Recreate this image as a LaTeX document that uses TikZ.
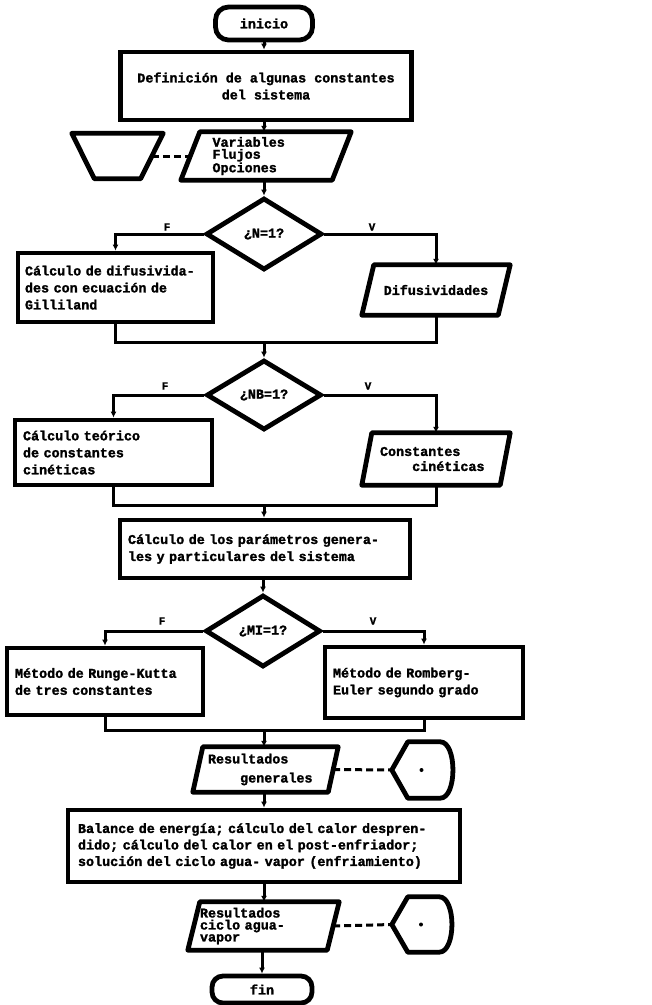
\documentclass[tikz,border=0pt]{standalone}
\usepackage{fontspec}
\setmonofont[BoldFeatures={FakeBold=1.6}]{Liberation Mono}
\usetikzlibrary{shapes.geometric,arrows.meta,calc}
\newcommand\pgramoutline[2]{%
  \draw[outline] ($(#1.north west)+(#2/2,0)$) -- ($(#1.north east)+(#2/2,0)$)
    -- ($(#1.south east)+(-#2/2,0)$) -- ($(#1.south west)+(-#2/2,0)$) -- cycle;}
\newcommand\dispoutline[1]{%
  \draw[outline] (#1.west) -- ($(#1.north west)+(16,0)$) -- ($(#1.north east)+(-13,0)$)
    .. controls ($(#1.north east)+(4,0)$) and ($(#1.south east)+(4,0)$) .. ($(#1.south east)+(-13,0)$)
    -- ($(#1.south west)+(16,0)$) -- cycle;
  \fill ($(#1.center)+(-1,0)$) circle (2pt);}
\begin{document}
\begin{tikzpicture}[x=1pt,y=-1pt,
  every node/.style={font=\fontsize{13.4}{17}\selectfont\ttfamily\bfseries, inner sep=0pt},
  box/.style={draw, line width=4.8pt, rectangle, align=left},
  term/.style={draw, line width=4.8pt, rectangle, rounded corners=13pt},
  dec/.style={draw, line width=4.8pt, diamond},
  io/.style={rectangle, align=left},
  outline/.style={line width=4.8pt, line join=round},
  conn/.style={line width=3pt},
  arr/.style={line width=3pt, -{Latex[length=6pt,width=6pt]}},
  dashconn/.style={line width=3pt, dash pattern=on 7pt off 4pt},
  lab/.style={font=\fontsize{11}{11}\selectfont\ttfamily\bfseries}
]
\fill[white] (0,0) rectangle (652,1005);
\useasboundingbox (0,0) rectangle (652,1005);

% main column
\node[term, minimum width=97pt, minimum height=33pt] (ini) at (264,23.5) {inicio};
\node[box, align=center, minimum width=291pt, minimum height=68pt] (def) at (266,86)
  {Definición de algunas constantes\\del sistema};
\node[io, minimum width=151pt, minimum height=48pt, inner xsep=22pt, text width=107pt,
  font=\fontsize{13.4}{12}\selectfont\ttfamily\bfseries] (var) at (266,156)
  {Variables\\Flujos\\Opciones};
\pgramoutline{var}{19}
\node[rectangle, minimum width=68.5pt, minimum height=45pt] (trap) at (117.5,156) {};
\draw[outline] ($(trap.north west)+(-11.25,0)$) -- ($(trap.north east)+(11.25,0)$)
  -- ($(trap.south east)+(-11.25,0)$) -- ($(trap.south west)+(11.25,0)$) -- cycle;
\draw[dashconn] (trap.east) -- (var.west);

% decision 1
\node[dec, minimum width=116pt, minimum height=72pt] (d1) at (264,234) {¿N=1?};
\node[box, minimum width=195pt, minimum height=69pt, inner xsep=7pt, text width=181pt] (c1) at (115.5,287.5)
  {Cálculo de difusivida-\\des con ecuación de\\Gilliland};
\node[io, align=center, minimum width=136pt, minimum height=50pt] (dif) at (436,290) {Difusividades};
\pgramoutline{dif}{12}
\coordinate (m1) at (264,342);

% decision 2
\node[dec, minimum width=115pt, minimum height=70pt] (d2) at (264,395) {¿NB=1?};
\node[box, minimum width=197pt, minimum height=65pt, inner xsep=8pt, text width=181pt] (c2) at (113.5,452.5)
  {Cálculo teórico\\de constantes\\cinéticas};
\node[io, minimum width=138pt, minimum height=52pt, inner xsep=13pt, text width=112pt,
  font=\fontsize{13.4}{15}\selectfont\ttfamily\bfseries] (cin) at (436,459)
  {Constantes\\\phantom{xxxx}cinéticas};
\pgramoutline{cin}{10}
\coordinate (m2) at (264,505);

% parameters
\node[box, minimum width=290pt, minimum height=58pt, inner xsep=8pt, text width=274pt] (par) at (265,549)
  {Cálculo de los parámetros genera-\\les y particulares del sistema};

% decision 3
\node[dec, minimum width=115pt, minimum height=72pt] (d3) at (263,631) {¿MI=1?};
\node[box, minimum width=196pt, minimum height=67pt, inner xsep=8pt, text width=180pt] (rk) at (105,681.5)
  {Método de Runge-Kutta\\de tres constantes};
\node[box, minimum width=198pt, minimum height=71pt, inner xsep=8pt, text width=182pt] (rom) at (424,682.5)
  {Método de Romberg-\\Euler segundo grado};
\coordinate (m3) at (264,730);

% results
\node[io, minimum width=135pt, minimum height=45pt, inner xsep=10pt, text width=115pt,
  font=\fontsize{13.4}{19}\selectfont\ttfamily\bfseries] (res1) at (265.5,769.5)
  {Resultados\\\phantom{xxxx}generales};
\pgramoutline{res1}{10}
\node[rectangle, minimum width=61pt, minimum height=56pt] (disp1) at (422.5,770) {};
\dispoutline{disp1}
\draw[dashconn] (res1.east) -- (disp1.west);

\node[box, minimum width=392pt, minimum height=72pt, inner xsep=10pt, text width=372pt,
  font=\fontsize{13.4}{16.5}\selectfont\ttfamily\bfseries] (bal) at (264,846)
  {Balance de energía; cálculo del calor despren-\\dido; cálculo del calor en el post-enfriador;\\solución del ciclo agua- vapor (enfriamiento)};

\node[io, minimum width=139pt, minimum height=48pt, inner xsep=6pt, text width=127pt,
  font=\fontsize{13.4}{12}\selectfont\ttfamily\bfseries] (res2) at (263.5,926)
  {Resultados\\ciclo agua-\\vapor};
\pgramoutline{res2}{12}
\node[rectangle, minimum width=60pt, minimum height=55pt] (disp2) at (422,924.5) {};
\dispoutline{disp2}
\draw[dashconn] (res2.east) -- (disp2.west);

\node[term, minimum width=100pt, minimum height=27pt, rounded corners=11pt] (fin) at (262,989.5) {fin};

% connectors
\draw[arr] (ini.south) -- (ini.south |- def.north);
\draw[arr] (ini.south |- def.south) -- (ini.south |- var.north);
\draw[arr] (ini.south |- var.south) -- (d1.north);

\draw[arr] (d1.west) -| (c1.north);
\draw[arr] (d1.east) -| (dif.north);
\draw[conn] (c1.south) |- (m1) -| (dif.south);
\draw[arr] (m1) -- (d2.north);
\node[lab] (f1) at (167,227) {F};
\node[lab] (v1) at (372,227) {V};

\draw[arr] (d2.west) -| (c2.north);
\draw[arr] (d2.east) -| (cin.north);
\draw[conn] (c2.south) |- (m2) -| (cin.south);
\draw[arr] (m2) -- (m2 |- par.north);
\node[lab] (f2) at (165,386) {F};
\node[lab] (v2) at (368,386) {V};

\draw[arr] (par.south -| d3.north) -- (d3.north);
\draw[arr] (d3.west) -| (rk.north);
\draw[arr] (d3.east) -| (rom.north);
\draw[conn] (rk.south) |- (m3) -| (rom.south);
\draw[arr] (m3) -- (m3 |- res1.north);
\node[lab] (f3) at (162,621) {F};
\node[lab] (v3) at (373,621) {V};

\draw[arr] (m3 |- res1.south) -- (m3 |- bal.north);
\draw[arr] (m3 |- bal.south) -- (m3 |- res2.north);
\draw[arr] (fin.north |- res2.south) -- (fin.north);
\end{tikzpicture}
\end{document}
